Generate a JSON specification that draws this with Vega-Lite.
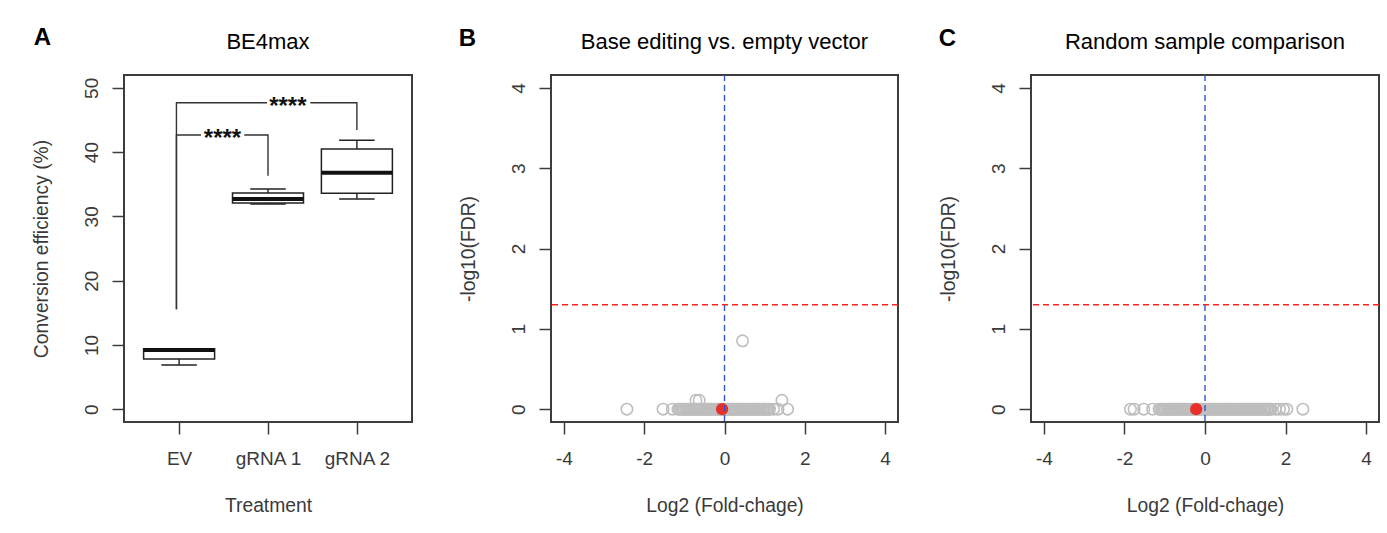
{
  "$schema": "https://vega.github.io/schema/vega-lite/v6.json",
  "padding": {"left": 31, "top": 25, "right": 0, "bottom": 0},
  "background": "white",
  "config": {
    "font": "Liberation Sans",
    "view": {"stroke": "#3c3c3c", "strokeWidth": 2},
    "axis": {"domain": false, "grid": false, "tickSize": 12, "tickColor": "#3c3c3c", "tickWidth": 1.5, "labelFont": "Liberation Sans", "labelFontSize": 19, "labelColor": "#3a3a3a", "titleFont": "Liberation Sans", "titleFontSize": 19.3, "titleFontWeight": "normal", "titleColor": "#3a3a3a", "labelFlush": false, "labelOverlap": false},
    "axisY": {"labelAngle": 270, "labelAlign": "center", "labelBaseline": "bottom", "labelPadding": 11, "titlePadding": 31},
    "axisX": {"labelPadding": 15, "titlePadding": 28}
  },
  "datasets": {
    "boxes": [
      {"treatment": "EV", "pos": 1, "lower": 6.87, "q1": 7.8, "median": 9.2, "q3": 9.4, "upper": 9.4},
      {"treatment": "gRNA 1", "pos": 2, "lower": 31.92, "q1": 32.08, "median": 32.7, "q3": 33.63, "upper": 34.26},
      {"treatment": "gRNA 2", "pos": 3, "lower": 32.7, "q1": 33.59, "median": 36.8, "q3": 40.48, "upper": 41.84}
    ],
    "brackets": [
      {"pair": "EV vs gRNA 1", "step": 1, "pos": 0.97, "value": 15.54},
      {"pair": "EV vs gRNA 1", "step": 2, "pos": 0.97, "value": 42.66},
      {"pair": "EV vs gRNA 1", "step": 3, "pos": 2.0, "value": 42.66},
      {"pair": "EV vs gRNA 1", "step": 4, "pos": 2.0, "value": 36.33},
      {"pair": "EV vs gRNA 2", "step": 1, "pos": 0.97, "value": 15.54},
      {"pair": "EV vs gRNA 2", "step": 2, "pos": 0.97, "value": 47.69},
      {"pair": "EV vs gRNA 2", "step": 3, "pos": 3.0, "value": 47.69},
      {"pair": "EV vs gRNA 2", "step": 4, "pos": 3.0, "value": 43.44}
    ],
    "stars": [
      {"pair": "EV vs gRNA 1", "label": "****", "pos": 1.488, "value": 42.66, "x0": 1.246, "x1": 1.733, "y0": 40.0, "y1": 44.4},
      {"pair": "EV vs gRNA 2", "label": "****", "pos": 2.223, "value": 47.69, "x0": 1.989, "x1": 2.476, "y0": 45.0, "y1": 49.3}
    ],
    "genesB": [
      {"log2FC": -2.43, "negLog10FDR": 0}, {"log2FC": -1.53, "negLog10FDR": 0}, {"log2FC": -1.3, "negLog10FDR": 0},
      {"log2FC": -1.16, "negLog10FDR": 0}, {"log2FC": -1.12, "negLog10FDR": 0}, {"log2FC": -1.09, "negLog10FDR": 0}, {"log2FC": -1.05, "negLog10FDR": 0},
      {"log2FC": -1.01, "negLog10FDR": 0}, {"log2FC": -0.97, "negLog10FDR": 0}, {"log2FC": -0.94, "negLog10FDR": 0}, {"log2FC": -0.9, "negLog10FDR": 0},
      {"log2FC": -0.86, "negLog10FDR": 0}, {"log2FC": -0.83, "negLog10FDR": 0}, {"log2FC": -0.79, "negLog10FDR": 0}, {"log2FC": -0.75, "negLog10FDR": 0},
      {"log2FC": -0.71, "negLog10FDR": 0}, {"log2FC": -0.68, "negLog10FDR": 0}, {"log2FC": -0.64, "negLog10FDR": 0}, {"log2FC": -0.6, "negLog10FDR": 0},
      {"log2FC": -0.57, "negLog10FDR": 0}, {"log2FC": -0.53, "negLog10FDR": 0}, {"log2FC": -0.49, "negLog10FDR": 0}, {"log2FC": -0.45, "negLog10FDR": 0},
      {"log2FC": -0.42, "negLog10FDR": 0}, {"log2FC": -0.38, "negLog10FDR": 0}, {"log2FC": -0.34, "negLog10FDR": 0}, {"log2FC": -0.31, "negLog10FDR": 0},
      {"log2FC": -0.27, "negLog10FDR": 0}, {"log2FC": -0.23, "negLog10FDR": 0}, {"log2FC": -0.19, "negLog10FDR": 0}, {"log2FC": -0.16, "negLog10FDR": 0},
      {"log2FC": -0.12, "negLog10FDR": 0}, {"log2FC": -0.08, "negLog10FDR": 0}, {"log2FC": -0.05, "negLog10FDR": 0}, {"log2FC": -0.01, "negLog10FDR": 0},
      {"log2FC": 0.03, "negLog10FDR": 0}, {"log2FC": 0.07, "negLog10FDR": 0}, {"log2FC": 0.1, "negLog10FDR": 0}, {"log2FC": 0.14, "negLog10FDR": 0},
      {"log2FC": 0.18, "negLog10FDR": 0}, {"log2FC": 0.21, "negLog10FDR": 0}, {"log2FC": 0.25, "negLog10FDR": 0}, {"log2FC": 0.29, "negLog10FDR": 0},
      {"log2FC": 0.33, "negLog10FDR": 0}, {"log2FC": 0.36, "negLog10FDR": 0}, {"log2FC": 0.4, "negLog10FDR": 0}, {"log2FC": 0.44, "negLog10FDR": 0},
      {"log2FC": 0.47, "negLog10FDR": 0}, {"log2FC": 0.51, "negLog10FDR": 0}, {"log2FC": 0.55, "negLog10FDR": 0}, {"log2FC": 0.59, "negLog10FDR": 0},
      {"log2FC": 0.62, "negLog10FDR": 0}, {"log2FC": 0.66, "negLog10FDR": 0}, {"log2FC": 0.7, "negLog10FDR": 0}, {"log2FC": 0.73, "negLog10FDR": 0},
      {"log2FC": 0.77, "negLog10FDR": 0}, {"log2FC": 0.81, "negLog10FDR": 0}, {"log2FC": 0.85, "negLog10FDR": 0}, {"log2FC": 0.88, "negLog10FDR": 0},
      {"log2FC": 0.92, "negLog10FDR": 0}, {"log2FC": 0.96, "negLog10FDR": 0}, {"log2FC": 0.99, "negLog10FDR": 0}, {"log2FC": 1.03, "negLog10FDR": 0},
      {"log2FC": 1.07, "negLog10FDR": 0}, {"log2FC": 1.1, "negLog10FDR": 0}, {"log2FC": 1.12, "negLog10FDR": 0},
      {"log2FC": 1.22, "negLog10FDR": 0}, {"log2FC": 1.33, "negLog10FDR": 0}, {"log2FC": 1.57, "negLog10FDR": 0},
      {"log2FC": -0.71, "negLog10FDR": 0.11}, {"log2FC": -0.63, "negLog10FDR": 0.11}, {"log2FC": 1.43, "negLog10FDR": 0.11},
      {"log2FC": 0.45, "negLog10FDR": 0.85}
    ],
    "genesC": [
      {"log2FC": -1.85, "negLog10FDR": 0}, {"log2FC": -1.76, "negLog10FDR": 0}, {"log2FC": -1.52, "negLog10FDR": 0}, {"log2FC": -1.3, "negLog10FDR": 0},
      {"log2FC": -1.14, "negLog10FDR": 0}, {"log2FC": -1.1, "negLog10FDR": 0}, {"log2FC": -1.06, "negLog10FDR": 0}, {"log2FC": -1.03, "negLog10FDR": 0},
      {"log2FC": -0.99, "negLog10FDR": 0}, {"log2FC": -0.95, "negLog10FDR": 0}, {"log2FC": -0.91, "negLog10FDR": 0}, {"log2FC": -0.88, "negLog10FDR": 0},
      {"log2FC": -0.84, "negLog10FDR": 0}, {"log2FC": -0.8, "negLog10FDR": 0}, {"log2FC": -0.77, "negLog10FDR": 0}, {"log2FC": -0.73, "negLog10FDR": 0},
      {"log2FC": -0.69, "negLog10FDR": 0}, {"log2FC": -0.65, "negLog10FDR": 0}, {"log2FC": -0.62, "negLog10FDR": 0}, {"log2FC": -0.58, "negLog10FDR": 0},
      {"log2FC": -0.54, "negLog10FDR": 0}, {"log2FC": -0.51, "negLog10FDR": 0}, {"log2FC": -0.47, "negLog10FDR": 0}, {"log2FC": -0.43, "negLog10FDR": 0},
      {"log2FC": -0.39, "negLog10FDR": 0}, {"log2FC": -0.36, "negLog10FDR": 0}, {"log2FC": -0.32, "negLog10FDR": 0}, {"log2FC": -0.28, "negLog10FDR": 0},
      {"log2FC": -0.25, "negLog10FDR": 0}, {"log2FC": -0.21, "negLog10FDR": 0}, {"log2FC": -0.17, "negLog10FDR": 0}, {"log2FC": -0.13, "negLog10FDR": 0},
      {"log2FC": -0.1, "negLog10FDR": 0}, {"log2FC": -0.06, "negLog10FDR": 0}, {"log2FC": -0.02, "negLog10FDR": 0}, {"log2FC": 0.01, "negLog10FDR": 0},
      {"log2FC": 0.05, "negLog10FDR": 0}, {"log2FC": 0.09, "negLog10FDR": 0}, {"log2FC": 0.13, "negLog10FDR": 0}, {"log2FC": 0.16, "negLog10FDR": 0},
      {"log2FC": 0.2, "negLog10FDR": 0}, {"log2FC": 0.24, "negLog10FDR": 0}, {"log2FC": 0.27, "negLog10FDR": 0}, {"log2FC": 0.31, "negLog10FDR": 0},
      {"log2FC": 0.35, "negLog10FDR": 0}, {"log2FC": 0.39, "negLog10FDR": 0}, {"log2FC": 0.42, "negLog10FDR": 0}, {"log2FC": 0.46, "negLog10FDR": 0},
      {"log2FC": 0.5, "negLog10FDR": 0}, {"log2FC": 0.53, "negLog10FDR": 0}, {"log2FC": 0.57, "negLog10FDR": 0}, {"log2FC": 0.61, "negLog10FDR": 0},
      {"log2FC": 0.65, "negLog10FDR": 0}, {"log2FC": 0.68, "negLog10FDR": 0}, {"log2FC": 0.72, "negLog10FDR": 0}, {"log2FC": 0.76, "negLog10FDR": 0},
      {"log2FC": 0.79, "negLog10FDR": 0}, {"log2FC": 0.83, "negLog10FDR": 0}, {"log2FC": 0.87, "negLog10FDR": 0}, {"log2FC": 0.91, "negLog10FDR": 0},
      {"log2FC": 0.94, "negLog10FDR": 0}, {"log2FC": 0.98, "negLog10FDR": 0}, {"log2FC": 1.02, "negLog10FDR": 0}, {"log2FC": 1.05, "negLog10FDR": 0},
      {"log2FC": 1.09, "negLog10FDR": 0}, {"log2FC": 1.13, "negLog10FDR": 0}, {"log2FC": 1.17, "negLog10FDR": 0}, {"log2FC": 1.2, "negLog10FDR": 0},
      {"log2FC": 1.24, "negLog10FDR": 0}, {"log2FC": 1.28, "negLog10FDR": 0}, {"log2FC": 1.31, "negLog10FDR": 0}, {"log2FC": 1.35, "negLog10FDR": 0},
      {"log2FC": 1.39, "negLog10FDR": 0}, {"log2FC": 1.43, "negLog10FDR": 0}, {"log2FC": 1.46, "negLog10FDR": 0}, {"log2FC": 1.5, "negLog10FDR": 0},
      {"log2FC": 1.54, "negLog10FDR": 0}, {"log2FC": 1.57, "negLog10FDR": 0}, {"log2FC": 1.61, "negLog10FDR": 0}, {"log2FC": 1.64, "negLog10FDR": 0},
      {"log2FC": 1.75, "negLog10FDR": 0}, {"log2FC": 1.85, "negLog10FDR": 0}, {"log2FC": 1.95, "negLog10FDR": 0}, {"log2FC": 2.03, "negLog10FDR": 0},
      {"log2FC": 2.43, "negLog10FDR": 0}
    ]
  },
  "bounds": "flush",
  "spacing": 139,
  "hconcat": [
    {
      "width": 288,
      "height": 347,
      "layer": [
        {
          "data": {"name": "boxes"},
          "mark": {"type": "rule", "color": "#222222", "strokeWidth": 1.4},
          "encoding": {
            "x": {"field": "pos", "type": "quantitative", "scale": {"domain": [0.38, 3.62], "nice": false, "zero": false, "padding": 0},
                  "axis": {"values": [1, 2, 3], "labelExpr": "datum.value == 1 ? 'EV' : datum.value == 2 ? 'gRNA 1' : 'gRNA 2'", "title": "Treatment"}},
            "y": {"field": "lower", "type": "quantitative", "scale": {"domain": [-2, 52], "nice": false, "zero": false, "padding": 0},
                  "axis": {"values": [0, 10, 20, 30, 40, 50], "title": "Conversion efficiency (%)"}},
            "y2": {"field": "upper"}
          }
        },
        {
          "data": {"name": "boxes"},
          "mark": {"type": "bar", "width": 71, "fill": "white", "stroke": "#222222", "strokeWidth": 1.5},
          "encoding": {
            "x": {"field": "pos", "type": "quantitative"},
            "y": {"field": "q1", "type": "quantitative"},
            "y2": {"field": "q3"}
          }
        },
        {
          "data": {"name": "boxes"},
          "mark": {"type": "tick", "orient": "horizontal", "size": 35.5, "thickness": 1.5, "color": "#222222", "opacity": 1},
          "encoding": {
            "x": {"field": "pos", "type": "quantitative"},
            "y": {"field": "lower", "type": "quantitative"}
          }
        },
        {
          "data": {"name": "boxes"},
          "mark": {"type": "tick", "orient": "horizontal", "size": 35.5, "thickness": 1.5, "color": "#222222", "opacity": 1},
          "encoding": {
            "x": {"field": "pos", "type": "quantitative"},
            "y": {"field": "upper", "type": "quantitative"}
          }
        },
        {
          "data": {"name": "boxes"},
          "mark": {"type": "tick", "orient": "horizontal", "size": 71, "thickness": 4, "color": "#111111", "opacity": 1},
          "encoding": {
            "x": {"field": "pos", "type": "quantitative"},
            "y": {"field": "median", "type": "quantitative"}
          }
        },
        {
          "data": {"name": "brackets"},
          "mark": {"type": "line", "color": "#333333", "strokeWidth": 1.4, "interpolate": "linear"},
          "encoding": {
            "x": {"field": "pos", "type": "quantitative"},
            "y": {"field": "value", "type": "quantitative"},
            "detail": {"field": "pair"},
            "order": {"field": "step"}
          }
        },
        {
          "data": {"name": "stars"},
          "mark": {"type": "rect", "fill": "white"},
          "encoding": {
            "x": {"field": "x0", "type": "quantitative"},
            "x2": {"field": "x1"},
            "y": {"field": "y0", "type": "quantitative"},
            "y2": {"field": "y1"}
          }
        },
        {
          "data": {"name": "stars"},
          "mark": {"type": "text", "fontSize": 24, "fontWeight": "bold", "color": "#111111", "align": "center", "baseline": "middle", "dy": 4},
          "encoding": {
            "x": {"field": "pos", "type": "quantitative"},
            "y": {"field": "value", "type": "quantitative"},
            "text": {"field": "label"}
          }
        },
        {
          "data": {"values": [{"label": "A", "pos": -0.537, "value": 56.6}]},
          "mark": {"type": "text", "fontSize": 24, "fontWeight": "bold", "color": "#000000", "align": "center", "baseline": "alphabetic"},
          "encoding": {
            "x": {"field": "pos", "type": "quantitative"},
            "y": {"field": "value", "type": "quantitative"},
            "text": {"field": "label"}
          }
        },
        {
          "data": {"values": [{"label": "BE4max", "pos": 2, "value": 56.05}]},
          "mark": {"type": "text", "fontSize": 22, "color": "#000000", "align": "center", "baseline": "alphabetic"},
          "encoding": {
            "x": {"field": "pos", "type": "quantitative"},
            "y": {"field": "value", "type": "quantitative"},
            "text": {"field": "label"}
          }
        }
      ]
    },
    {
      "bounds": "flush",
      "spacing": 133,
      "hconcat": [
        {
          "width": 347,
          "height": 347,
          "layer": [
            {
              "data": {"name": "genesB"},
              "mark": {"type": "point", "shape": "circle", "filled": false, "color": "#bebebe", "size": 130, "strokeWidth": 1.6, "opacity": 1},
              "encoding": {
                "x": {"field": "log2FC", "type": "quantitative", "scale": {"domain": [-4.32, 4.32], "nice": false, "zero": false},
                      "axis": {"values": [-4, -2, 0, 2, 4], "labelExpr": "'' + datum.value", "title": "Log2 (Fold-chage)"}},
                "y": {"field": "negLog10FDR", "type": "quantitative", "scale": {"domain": [-0.16, 4.16], "nice": false, "zero": false},
                      "axis": {"values": [0, 1, 2, 3, 4], "labelExpr": "'' + datum.value", "title": "-log10(FDR)"}}
              }
            },
            {
              "data": {"values": [{"log2FC": -0.06, "negLog10FDR": 0}]},
              "mark": {"type": "point", "shape": "circle", "filled": true, "color": "#e8302a", "size": 150, "opacity": 1},
              "encoding": {
                "x": {"field": "log2FC", "type": "quantitative"},
                "y": {"field": "negLog10FDR", "type": "quantitative"}
              }
            },
            {
              "data": {"values": [{"threshold": 1.301}]},
              "mark": {"type": "rule", "color": "#ff2020", "strokeWidth": 1.5, "strokeDash": [6, 4]},
              "encoding": {"y": {"field": "threshold", "type": "quantitative"}}
            },
            {
              "data": {"values": [{"center": 0}]},
              "mark": {"type": "rule", "color": "#3355cc", "strokeWidth": 1.4, "strokeDash": [6, 4]},
              "encoding": {"x": {"field": "center", "type": "quantitative"}}
            },
            {
              "data": {"values": [{"label": "B", "log2FC": -6.399, "negLog10FDR": 4.527}]},
              "mark": {"type": "text", "fontSize": 24, "fontWeight": "bold", "color": "#000000", "align": "center", "baseline": "alphabetic"},
              "encoding": {
                "x": {"field": "log2FC", "type": "quantitative"},
                "y": {"field": "negLog10FDR", "type": "quantitative"},
                "text": {"field": "label"}
              }
            },
            {
              "data": {"values": [{"label": "Base editing vs. empty vector", "log2FC": 0, "negLog10FDR": 4.484}]},
              "mark": {"type": "text", "fontSize": 22, "color": "#000000", "align": "center", "baseline": "alphabetic"},
              "encoding": {
                "x": {"field": "log2FC", "type": "quantitative"},
                "y": {"field": "negLog10FDR", "type": "quantitative"},
                "text": {"field": "label"}
              }
            }
          ]
        },
        {
          "width": 348,
          "height": 347,
          "layer": [
            {
              "data": {"name": "genesC"},
              "mark": {"type": "point", "shape": "circle", "filled": false, "color": "#bebebe", "size": 130, "strokeWidth": 1.6, "opacity": 1},
              "encoding": {
                "x": {"field": "log2FC", "type": "quantitative", "scale": {"domain": [-4.32, 4.32], "nice": false, "zero": false},
                      "axis": {"values": [-4, -2, 0, 2, 4], "labelExpr": "'' + datum.value", "title": "Log2 (Fold-chage)"}},
                "y": {"field": "negLog10FDR", "type": "quantitative", "scale": {"domain": [-0.16, 4.16], "nice": false, "zero": false},
                      "axis": {"values": [0, 1, 2, 3, 4], "labelExpr": "'' + datum.value", "title": "-log10(FDR)"}}
              }
            },
            {
              "data": {"values": [{"log2FC": -0.22, "negLog10FDR": 0}]},
              "mark": {"type": "point", "shape": "circle", "filled": true, "color": "#e8302a", "size": 150, "opacity": 1},
              "encoding": {
                "x": {"field": "log2FC", "type": "quantitative"},
                "y": {"field": "negLog10FDR", "type": "quantitative"}
              }
            },
            {
              "data": {"values": [{"threshold": 1.301}]},
              "mark": {"type": "rule", "color": "#ff2020", "strokeWidth": 1.5, "strokeDash": [6, 4]},
              "encoding": {"y": {"field": "threshold", "type": "quantitative"}}
            },
            {
              "data": {"values": [{"center": 0}]},
              "mark": {"type": "rule", "color": "#3355cc", "strokeWidth": 1.4, "strokeDash": [6, 4]},
              "encoding": {"x": {"field": "center", "type": "quantitative"}}
            },
            {
              "data": {"values": [{"label": "C", "log2FC": -6.393, "negLog10FDR": 4.527}]},
              "mark": {"type": "text", "fontSize": 24, "fontWeight": "bold", "color": "#000000", "align": "center", "baseline": "alphabetic"},
              "encoding": {
                "x": {"field": "log2FC", "type": "quantitative"},
                "y": {"field": "negLog10FDR", "type": "quantitative"},
                "text": {"field": "label"}
              }
            },
            {
              "data": {"values": [{"label": "Random sample comparison", "log2FC": 0, "negLog10FDR": 4.484}]},
              "mark": {"type": "text", "fontSize": 22, "color": "#000000", "align": "center", "baseline": "alphabetic"},
              "encoding": {
                "x": {"field": "log2FC", "type": "quantitative"},
                "y": {"field": "negLog10FDR", "type": "quantitative"},
                "text": {"field": "label"}
              }
            }
          ]
        }
      ]
    }
  ]
}
